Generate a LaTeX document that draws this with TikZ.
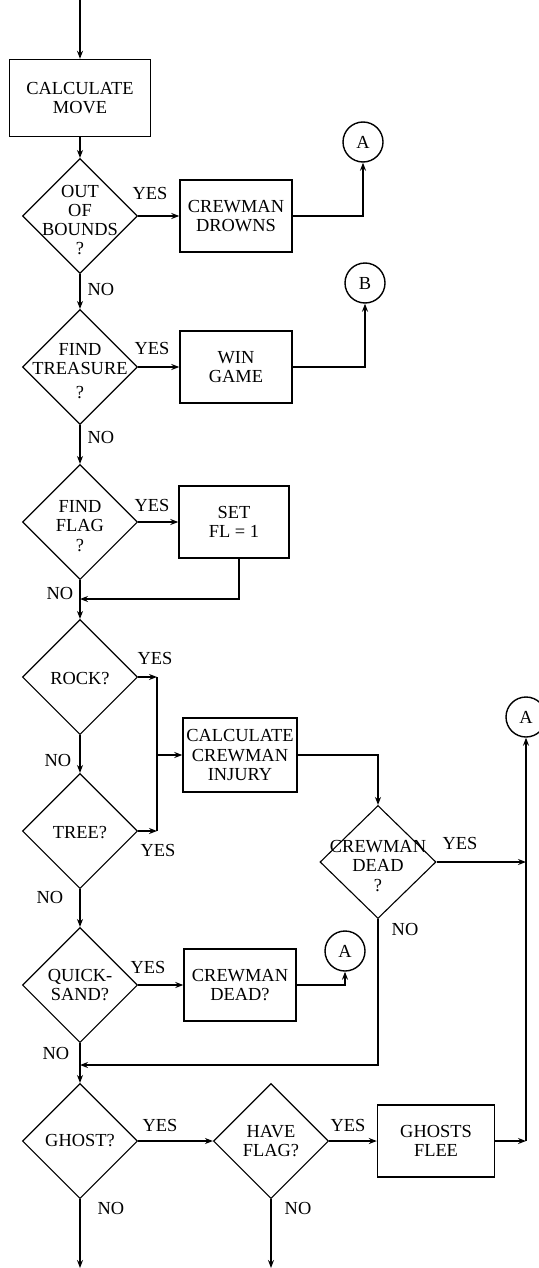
\documentclass[tikz,border=0pt]{standalone}
\usepackage{fontspec}
\setmainfont{Liberation Serif}
\usetikzlibrary{shapes.geometric,arrows.meta}

\begin{document}
\begin{tikzpicture}[
x=0.5pt,y=-0.5pt,
font=\fontsize{9.2}{9.6}\selectfont,
every node/.style={align=center},
process/.style={draw,rectangle,line width=0.7pt,minimum width=56pt,minimum height=36pt,inner sep=1pt},
decision/.style={draw,diamond,line width=0.55pt,minimum width=57.5pt,minimum height=57.5pt,inner sep=0pt},
dlabel/.style={inner sep=0pt,yshift=-2pt},
connector/.style={draw,circle,line width=0.7pt,minimum size=20pt,inner sep=0pt},
tag/.style={inner sep=1pt},
flow/.style={line width=0.7pt,-{Stealth[length=4pt,width=3pt]}},
link/.style={line width=0.7pt}
]
\useasboundingbox (0,0) rectangle (539,1268);

\coordinate (start) at (80,0);
\node[process,minimum width=70.5pt,minimum height=38.5pt] (move) at (80,98) {CALCULATE\\MOVE};

\node[decision,label={[dlabel]center:OUT\\OF\\BOUNDS\\?}] (bounds) at (80,216) {};
\node[process] (drowns) at (236,216) {CREWMAN\\DROWNS};
\node[connector] (a1) at (363,142) {A};
\node[tag] (yes1) at (150,193) {YES};
\node[tag] (no1) at (101,289) {NO};

\node[decision,label={[dlabel]center:FIND\\TREASURE\\[2pt]?}] (treasure) at (80,367) {};
\node[process] (win) at (236,367) {WIN\\GAME};
\node[connector] (b) at (365,283) {B};
\node[tag] (yes2) at (152,348) {YES};
\node[tag] (no2) at (101,437) {NO};

\node[decision,label={[dlabel]center:FIND\\FLAG\\?}] (flag) at (80,522) {};
\node[process,minimum width=55pt] (setfl) at (234,522) {SET\\FL = 1};
\node[tag] (yes3) at (152,505) {YES};
\node[tag] (no3) at (60,593) {NO};
\coordinate (join1) at (80,599);

\node[decision,label={[dlabel,yshift=1pt]center:ROCK?}] (rock) at (80,677) {};
\node[tag] (yes4) at (155,658) {YES};
\node[tag] (no4) at (58,760) {NO};
\coordinate (rockc) at (157,677);

\node[decision,label={[dlabel,yshift=1pt]center:TREE?}] (tree) at (80,831) {};
\node[tag] (yes5) at (158,850) {YES};
\node[tag] (no5) at (50,897) {NO};
\coordinate (treec) at (157,831);
\coordinate (midc) at (157,755);

\node[process,minimum width=57pt,minimum height=37pt] (injury) at (240,755) {CALCULATE\\CREWMAN\\INJURY};
\node[decision,minimum width=58pt,minimum height=56.5pt,label={[dlabel]center:CREWMAN\\DEAD\\?}] (dead) at (378,862) {};
\node[tag] (yes6) at (460,843) {YES};
\node[tag] (no6) at (405,929) {NO};
\coordinate (deadc) at (526,862);
\node[connector] (a2) at (526,717) {A};

\node[decision,label={[dlabel,yshift=2pt]center:QUICK-\\SAND?}] (quick) at (80,985) {};
\node[process] (cdead) at (240,985) {CREWMAN\\DEAD?};
\node[connector] (a3) at (345,951) {A};
\node[tag] (yes7) at (148,967) {YES};
\node[tag] (no7) at (56,1053) {NO};
\coordinate (join2) at (80,1065);

\node[decision,label={[dlabel,yshift=2pt]center:GHOST?}] (ghost) at (80,1141) {};
\node[decision,label={[dlabel,yshift=2pt]center:HAVE\\FLAG?}] (haveflag) at (271,1141) {};
\node[process,minimum width=58.5pt] (flee) at (436,1141) {GHOSTS\\FLEE};
\node[tag] (yes8) at (160,1125) {YES};
\node[tag] (yes9) at (348,1125) {YES};
\node[tag] (no8) at (111,1208) {NO};
\node[tag] (no9) at (298,1208) {NO};
\coordinate (fleec) at (526,1141);
\coordinate (exit1) at (80,1268);
\coordinate (exit2) at (271,1268);

\draw[flow] (start) -- (move);
\draw[flow] (move) -- (bounds);
\draw[flow] (bounds) -- (drowns);
\draw[flow] (drowns) -| (a1);
\draw[flow] (bounds) -- (treasure);
\draw[flow] (treasure) -- (win);
\draw[flow] (win) -| (b);
\draw[flow] (treasure) -- (flag);
\draw[flow] (flag) -- (setfl);
\draw[flow] ([xshift=2.5pt]setfl.south) |- (join1);
\draw[flow] (flag) -- (rock);
\draw[flow] (rock) -- (rockc);
\draw[flow] (tree) -- (treec);
\draw[link] (rockc) -- (treec);
\draw[flow] (midc) -- (injury);
\draw[flow] (rock) -- (tree);
\draw[flow] (injury) -| (dead);
\draw[flow] (dead) -- (deadc);
\draw[flow] (dead) |- (join2);
\draw[flow] (tree) -- (quick);
\draw[flow] (quick) -- (cdead);
\draw[flow] (cdead) -| (a3);
\draw[flow] (quick) -- (ghost);
\draw[flow] (ghost) -- (haveflag);
\draw[flow] (haveflag) -- (flee);
\draw[flow] (flee) -- (fleec);
\draw[flow] (fleec) -- (a2);
\draw[flow] (ghost) -- (exit1);
\draw[flow] (haveflag) -- (exit2);
\end{tikzpicture}
\end{document}
